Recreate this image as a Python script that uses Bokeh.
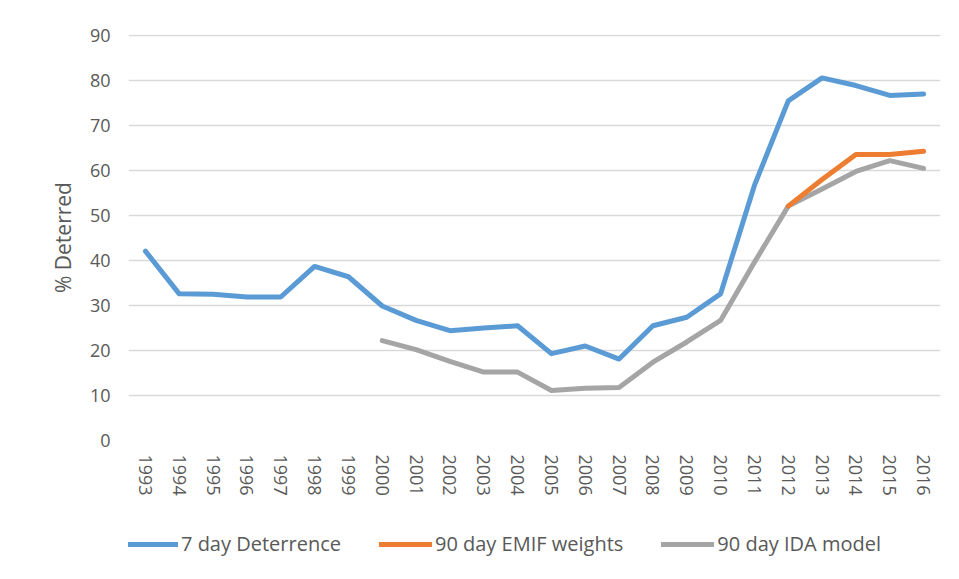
from bokeh.plotting import figure
from bokeh.layouts import column
from bokeh.models import FixedTicker, Legend, LegendItem
from bokeh.embed import file_html
from bokeh.resources import INLINE

years = list(range(1993, 2017))
deter7 = [42.1, 32.6, 32.5, 31.9, 31.9, 38.7, 36.4, 29.9, 26.7, 24.4, 25.0, 25.5,
          19.3, 21.0, 18.1, 25.5, 27.4, 32.6, 56.7, 75.5, 80.6, 78.9, 76.7, 77.0]
emif_years = [2012, 2013, 2014, 2015, 2016]
emif90 = [52.1, 58.0, 63.6, 63.6, 64.3]
ida_years = list(range(2000, 2017))
ida90 = [22.2, 20.2, 17.6, 15.2, 15.2, 11.1, 11.6, 11.8, 17.4, 21.9, 26.7, 39.6,
         52.1, 55.9, 59.8, 62.2, 60.5]
y_ticks = [0, 10, 20, 30, 40, 50, 60, 70, 80, 90]
series_names = ["7 day Deterrence", "90 day EMIF weights", "90 day IDA model"]
series_colors = ["#5b9bd5", "#ed7d31", "#a5a5a5"]

FONT = "Open Sans"
TXT = "#595959"

p = figure(width=951, height=511, output_backend="svg", toolbar_location=None,
           x_range=(1992.5, 2016.5), y_range=(0, 90.25),
           min_border_left=128, min_border_right=11, min_border_top=34,
           min_border_bottom=71)
p.outline_line_color = None
p.background_fill_color = "white"
p.border_fill_color = "white"

p.xgrid.grid_line_color = None
p.ygrid.grid_line_color = "#d9d9d9"
p.ygrid.grid_line_width = 1.5
p.yaxis.ticker = FixedTicker(ticks=y_ticks)
p.xaxis.ticker = FixedTicker(ticks=years)
p.xaxis.major_label_orientation = "vertical"
for ax in (p.xaxis, p.yaxis):
    ax.axis_line_color = None
    ax.major_tick_line_color = None
    ax.minor_tick_line_color = None
    ax.major_label_text_font = FONT
    ax.major_label_text_font_size = "18px"
    ax.major_label_text_color = TXT
p.yaxis.major_label_standoff = 12
p.xaxis.major_label_standoff = 8
p.yaxis.axis_label = "% Deterred"
p.yaxis.axis_label_text_font = FONT
p.yaxis.axis_label_text_font_style = "normal"
p.yaxis.axis_label_text_font_size = "21px"
p.yaxis.axis_label_text_color = TXT
p.yaxis.axis_label_standoff = 10

p.line(ida_years, ida90, line_color=series_colors[2], line_width=5, line_cap="round", line_join="round")
p.line(years, deter7, line_color=series_colors[0], line_width=5, line_cap="round", line_join="round")
p.line(emif_years, emif90, line_color=series_colors[1], line_width=5, line_cap="round", line_join="round")

# legend strip below the chart (dummy lines kept outside the visible range)
lg = figure(width=951, height=60, output_backend="svg", toolbar_location=None,
            x_range=(0, 1), y_range=(0, 1),
            min_border_left=0, min_border_right=0, min_border_top=0, min_border_bottom=0)
lg.outline_line_color = None
lg.xaxis.visible = False
lg.yaxis.visible = False
lg.grid.visible = False
items = []
for name, col in zip(series_names, series_colors):
    r = lg.line([5, 6], [5, 5], line_color=col, line_width=5, line_cap="round")
    items.append(LegendItem(label=name, renderers=[r]))
legend = Legend(items=items, orientation="horizontal", location=(-3, 14),
                label_text_font=FONT, label_text_font_size="20px", label_text_color=TXT,
                glyph_width=53, label_standoff=3, spacing=38, padding=4,
                border_line_color=None, background_fill_alpha=0, margin=0)
lg.add_layout(legend, "center")

layout = column(p, lg, spacing=0)
open("out.html", "w").write(file_html(layout, INLINE))
